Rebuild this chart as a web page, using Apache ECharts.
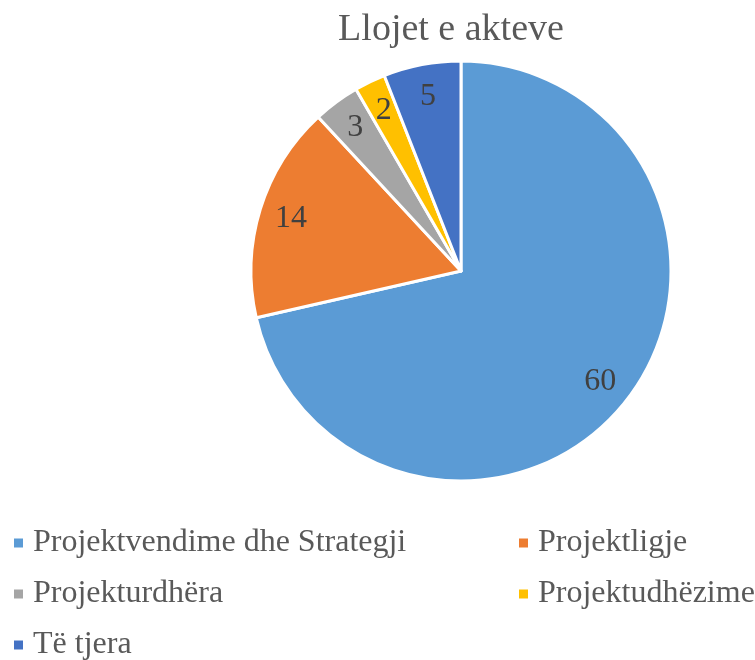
<!DOCTYPE html>
<html>
<head>
<meta charset="utf-8">
<script src="https://cdn.jsdelivr.net/npm/echarts@6/dist/echarts.min.js"></script>
<style>
  html, body { margin: 0; padding: 0; background: #fff; }
  #chart { width: 755px; height: 660px; }
</style>
</head>
<body>
<div id="chart"></div>
<script>
// Llojet e akteve - të dhënat
var categories = ['Projektvendime dhe Strategji', 'Projektligje', 'Projekturdhëra', 'Projektudhëzime', 'Të tjera'];
var values = [60, 14, 3, 2, 5];
var colors = ['#5B9BD5', '#ED7D31', '#A5A5A5', '#FFC000', '#4472C4'];

var font = '"Liberation Serif", "Times New Roman", serif';

var pieData = categories.map(function (name, i) {
    return { name: name, value: values[i], itemStyle: { color: colors[i] } };
});

var myChart = echarts.init(document.getElementById('chart'));

// legjenda: një komponent për çdo element (2 kolona, 3 rreshta)
var legendPos = [[12, 541], [517, 541], [12, 592], [517, 592], [12, 643]];
var legends = categories.map(function (name, i) {
    return {
        left: legendPos[i][0],
        top: legendPos[i][1] - 15,
        padding: 0,
        icon: 'rect',
        itemWidth: 11,
        itemHeight: 11,
        selectedMode: false,
        data: [name],
        textStyle: {
            fontFamily: font,
            fontSize: 32,
            color: '#595959',
            lineHeight: 34,
            padding: [0, 0, 0, 4]
        }
    };
});

var option = {
    animation: false,
    title: {
        text: 'Llojet e akteve',
        left: 446,
        textAlign: 'center',
        top: 6,
        textStyle: { fontFamily: font, fontSize: 38, fontWeight: 'normal', color: '#595959' }
    },
    legend: legends,
    series: [
        {
            name: 'akte',
            type: 'pie',
            center: [461, 271],
            radius: 210,
            startAngle: 90,
            clockwise: true,
            data: pieData,
            itemStyle: { borderColor: '#fff', borderWidth: 3 },
            label: { show: false },
            labelLine: { show: false },
            emphasis: { disabled: true }
        },
        {
            // unaze e padukshme vetëm për etiketat
            name: 'etiketa',
            type: 'pie',
            center: [461, 271],
            radius: [140, 210],
            startAngle: 90,
            clockwise: true,
            silent: true,
            data: categories.map(function (name, i) {
                return { name: name, value: values[i] };
            }),
            itemStyle: { color: 'rgba(0,0,0,0)' },
            label: {
                show: true,
                position: 'inside',
                formatter: '{c}',
                fontFamily: font,
                fontSize: 32,
                color: '#404040'
            },
            labelLine: { show: false },
            emphasis: { disabled: true }
        }
    ]
};
myChart.setOption(option);
</script>
</body>
</html>
